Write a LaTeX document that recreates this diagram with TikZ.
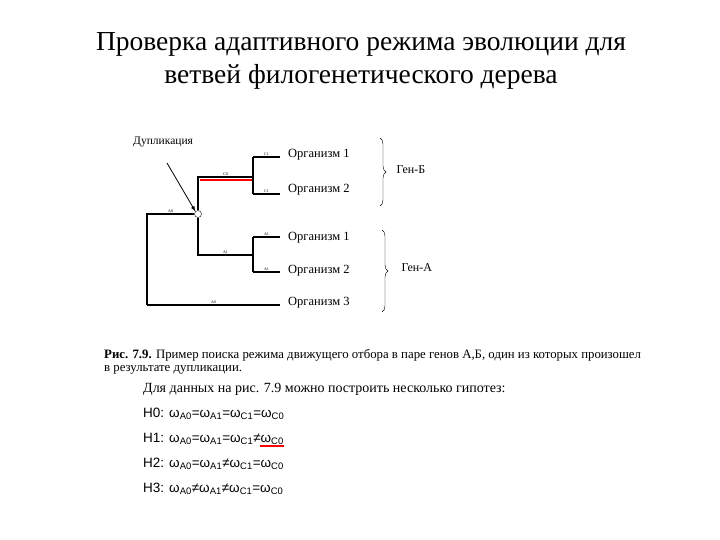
\documentclass[tikz,border=0pt]{standalone}
\usepackage{fontspec}
\setmainfont{Liberation Serif}
\newfontfamily\hsans{Liberation Sans}
\usetikzlibrary{decorations.pathreplacing}
\begin{document}
\begin{tikzpicture}[x=1pt,y=-1pt,
  br/.style={line width=1.2pt},
  lf/.style={anchor=west,font=\fontsize{12.5}{14}\selectfont,inner sep=0pt},
  bl/.style={font=\fontsize{4}{5}\selectfont,inner sep=0.5pt,above},
  hyp/.style={anchor=west,font=\hsans\fontsize{13.5}{15}\selectfont,inner sep=0pt}]
\useasboundingbox (0,0) rectangle (720,540);
\node[font=\fontsize{27.5}{33}\selectfont,align=center] (title) at (361,61) {Проверка адаптивного режима эволюции для\\ветвей филогенетического дерева};
% tree
\coordinate (r1) at (147,214); \coordinate (r2) at (147,305);
\node[draw,circle,inner sep=0pt,minimum size=7pt,fill=white] (dup) at (198,214) {};
\coordinate (u0) at (198,177); \coordinate (u1) at (253,177);
\coordinate (ut) at (253,157); \coordinate (ub) at (253,194);
\coordinate (l0) at (198,255); \coordinate (l1) at (253,255);
\coordinate (lt) at (253,237); \coordinate (lb) at (253,272);
\node[lf] (o1) at (288,155) {Организм 1};
\node[lf] (o2) at (288,190) {Организм 2};
\node[lf] (o3) at (288,238) {Организм 1};
\node[lf] (o4) at (288,271) {Организм 2};
\node[lf] (o5) at (288,303) {Организм 3};
\draw[br] (r2) -- (r1) -- node[bl]{A0} (dup.west);
\draw[br] (dup.north) -- (u0) -- node[bl]{C0} (u1);
\draw[red,line width=2pt] (200,180) -- (253,180);
\draw[br] (ut) -- (ub);
\draw[br] (ut) -- node[bl]{C1} (280,157);
\draw[br] (ub) -- node[bl]{C1} (280,194);
\draw[br] (dup.south) -- (l0) -- node[bl]{A1} (l1);
\draw[br] (lt) -- (lb);
\draw[br] (lt) -- node[bl]{A1} (280,237);
\draw[br] (lb) -- node[bl]{A1} (280,272);
\draw[br] (r2) -- node[bl]{A0} (280,305);
\node[anchor=west,font=\fontsize{11.5}{13}\selectfont,inner sep=0pt] (dl) at (133,142) {Дупликация};
\draw[-latex,line width=0.8pt] (167,163) -- (dup.north west);
\draw[decorate,decoration={brace,amplitude=6pt}] (380,138) -- (380,206) coordinate[midway] (b1);
\node[anchor=west,font=\fontsize{12}{13}\selectfont] (gb) at (393,170) {Ген-Б};
\draw[decorate,decoration={brace,amplitude=6pt}] (382,230) -- (382,312) coordinate[midway] (b2);
\node[anchor=west,font=\fontsize{12}{13}\selectfont] (ga) at (398,268) {Ген-А};
% caption
\node[anchor=west,inner sep=0pt,font=\fontsize{12.8}{14}\selectfont] (cap1) at (104,355) {\textbf{Рис. 7.9.} Пример поиска режима движущего отбора в паре генов А,Б, один из которых произошел};
\node[anchor=west,inner sep=0pt,font=\fontsize{12.8}{14}\selectfont] (cap2) at (104,370) {в результате дупликации.};
\node[anchor=west,inner sep=0pt,font=\fontsize{14}{16}\selectfont] (dd) at (143,389) {Для данных на рис. 7.9 можно построить несколько гипотез:};
\node[hyp] (h0) at (143,414) {H0: ω\textsubscript{A0}=ω\textsubscript{A1}=ω\textsubscript{C1}=ω\textsubscript{C0}};
\node[hyp] (h1) at (143,439) {H1: ω\textsubscript{A0}=ω\textsubscript{A1}=ω\textsubscript{C1}≠ω\textsubscript{C0}};
\node[hyp] (h2) at (143,464) {H2: ω\textsubscript{A0}=ω\textsubscript{A1}≠ω\textsubscript{C1}=ω\textsubscript{C0}};
\node[hyp] (h3) at (143,489) {H3: ω\textsubscript{A0}≠ω\textsubscript{A1}≠ω\textsubscript{C1}=ω\textsubscript{C0}};
\draw[red,line width=1.2pt] ([xshift=-24pt,yshift=-1pt]h1.south east) -- ([yshift=-1pt]h1.south east);
\end{tikzpicture}
\end{document}
